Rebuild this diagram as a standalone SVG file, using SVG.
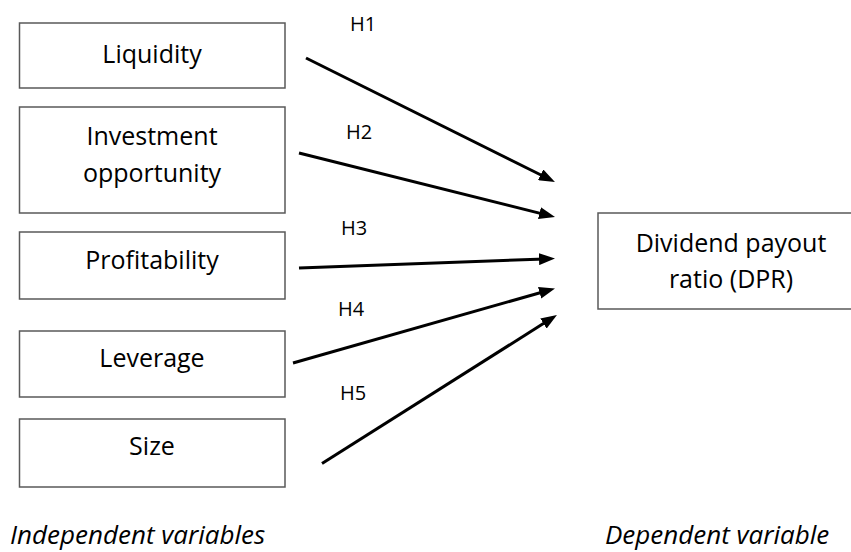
<svg xmlns="http://www.w3.org/2000/svg" width="851" height="552" viewBox="0 0 851 552">
<style>
  .box { fill: #ffffff; stroke: #595959; stroke-width: 1.5; }
  .lbl { font-family: "Open Sans", "Liberation Sans", sans-serif; font-size: 25px; fill: #000000; text-anchor: middle; }
  .h { font-family: "Open Sans", "Liberation Sans", sans-serif; font-size: 20px; fill: #000000; }
  .cap { font-family: "Open Sans", "Liberation Sans", sans-serif; font-size: 26px; font-style: italic; fill: #000000; }
  .arrow { fill: none; stroke: #000000; stroke-width: 3; marker-end: url(#ah); }
</style>
<defs>
  <marker id="ah" markerUnits="userSpaceOnUse" markerWidth="16" markerHeight="12" refX="6" refY="6" orient="auto">
    <path d="M0,0 L16,6 L0,12 z" fill="#000000"/>
  </marker>
</defs>
<rect width="851" height="552" fill="#ffffff"/>
<g id="liquidity">
  <rect class="box" x="19.5" y="23" width="265.5" height="65"/>
  <text class="lbl" x="152" y="63">Liquidity</text>
</g>
<g id="investment">
  <rect class="box" x="19.5" y="107" width="265.5" height="106"/>
  <text class="lbl" x="152" y="145">Investment</text>
  <text class="lbl" x="152" y="182">opportunity</text>
</g>
<g id="profitability">
  <rect class="box" x="19.5" y="232" width="265.5" height="67"/>
  <text class="lbl" x="152" y="269">Profitability</text>
</g>
<g id="leverage">
  <rect class="box" x="19.5" y="331" width="265.5" height="66"/>
  <text class="lbl" x="152" y="367">Leverage</text>
</g>
<g id="size">
  <rect class="box" x="19.5" y="419" width="265.5" height="68"/>
  <text class="lbl" x="152" y="455">Size</text>
</g>
<g id="dpr">
  <rect class="box" x="598" y="213" width="270" height="96"/>
  <text class="lbl" x="731" y="252">Dividend payout</text>
  <text class="lbl" x="731" y="288">ratio (DPR)</text>
</g>
<g id="connectors">
  <path class="arrow" d="M306,58 L546,177.5"/>
  <path class="arrow" d="M299,153 L545.3,214.6"/>
  <path class="arrow" d="M299,268 L545,258.9"/>
  <path class="arrow" d="M293,363 L545.4,291.2"/>
  <path class="arrow" d="M322,463.5 L548.5,320.3"/>
  <text class="h" x="350" y="31">H1</text>
  <text class="h" x="346" y="139">H2</text>
  <text class="h" x="341" y="235">H3</text>
  <text class="h" x="338" y="316">H4</text>
  <text class="h" x="340" y="400">H5</text>
</g>
<text class="cap" x="10" y="544">Independent variables</text>
<text class="cap" x="605" y="544">Dependent variable</text>
</svg>
